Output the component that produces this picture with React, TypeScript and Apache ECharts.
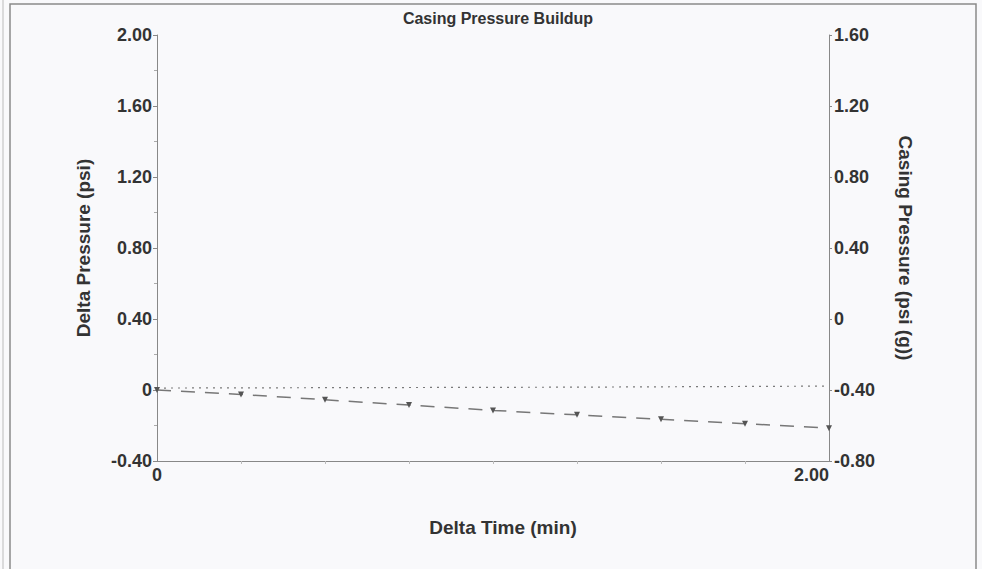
import React, { useEffect, useRef } from "react";
import * as echarts from "echarts";

const timeMin = [0, 0.25, 0.5, 0.75, 1.0, 1.25, 1.5, 1.75, 2.0];
const deltaPressure = [0, -0.025, -0.055, -0.085, -0.115, -0.14, -0.165, -0.19, -0.215];
const casingPressure = [-0.389, -0.388, -0.387, -0.386, -0.385, -0.384, -0.382, -0.38, -0.378];

const titleText = "Casing Pressure Buildup";
const xName = "Delta Time (min)";
const yLeftName = "Delta Pressure (psi)";
const yRightName = "Casing Pressure (psi (g))";

const fmt = (v: number) => (Math.abs(v) < 1e-9 ? "0" : v.toFixed(2));

export default function App() {
  const ref = useRef<HTMLDivElement>(null);
  useEffect(() => {
    if (!ref.current) return;
    const chart = echarts.init(ref.current, null, { renderer: "svg" });
    const font = "Liberation Sans, Arial, sans-serif";
    const base = { color: "#333", fontWeight: "bold" as const, fontFamily: font };
    const tickStyle = { ...base, fontSize: 18 };
    const nameStyle = { ...base, fontSize: 19 };
    const axisLine = { show: true, onZero: false, lineStyle: { color: "#888", width: 1 } };
    chart.setOption({
      animation: false,
      backgroundColor: "#f9f9fb",
      title: {
        text: titleText,
        left: 493,
        top: 5,
        textAlign: "center",
        textStyle: { ...base, fontSize: 16 },
      },
      graphic: [
        {
          type: "rect",
          shape: { x: 10, y: 4, width: 966, height: 580 },
          style: { fill: "none", stroke: "#8a8a8a", lineWidth: 1.5 },
          silent: true,
        },
        {
          type: "line",
          shape: { x1: 3, y1: 0, x2: 3, y2: 569 },
          style: { stroke: "#bbb", lineWidth: 1 },
          silent: true,
        },
      ],
      grid: { left: 157, right: 153, top: 35, bottom: 108 },
      xAxis: {
        type: "value",
        min: 0,
        max: 2,
        interval: 2,
        name: xName,
        nameLocation: "middle",
        nameGap: 57,
        nameTextStyle: { ...nameStyle, fontSize: 19, padding: [0, 0, 0, 20] },
        axisLine,
        axisTick: { show: false },
        minorTick: { show: true, splitNumber: 8, length: 3, lineStyle: { color: "#bbb" } },
        splitLine: { show: false },
        axisLabel: { ...tickStyle, margin: 5, formatter: fmt, alignMaxLabel: "right" },
      },
      yAxis: [
        {
          type: "value",
          min: -0.4,
          max: 2.0,
          interval: 0.4,
          name: yLeftName,
          nameLocation: "middle",
          nameGap: 64,
          nameTextStyle: nameStyle,
          axisLine,
          axisTick: { show: true, length: 4, lineStyle: { color: "#888" } },
          minorTick: { show: true, splitNumber: 2, length: 3, lineStyle: { color: "#aaa" } },
          splitLine: { show: false },
          axisLabel: { ...tickStyle, margin: 5, formatter: fmt },
        },
        {
          type: "value",
          min: -0.8,
          max: 1.6,
          interval: 0.4,
          position: "right",
          name: yRightName,
          nameLocation: "middle",
          nameGap: 67,
          nameRotate: -90,
          nameTextStyle: nameStyle,
          axisLine,
          axisTick: { show: true, length: 3, lineStyle: { color: "#888" } },
          splitLine: { show: false },
          axisLabel: { ...tickStyle, margin: 5, formatter: fmt },
        },
      ],
      series: [
        {
          type: "line",
          yAxisIndex: 0,
          data: timeMin.map((t, i) => [t, deltaPressure[i]]),
          lineStyle: { color: "#777", width: 1.5, type: [14, 10] },
          symbol: "triangle",
          symbolRotate: 180,
          symbolSize: 6,
          itemStyle: { color: "#555" },
        },
        {
          type: "line",
          yAxisIndex: 1,
          data: timeMin.map((t, i) => [t, casingPressure[i]]),
          lineStyle: { color: "#7a7a7a", width: 1.2, type: [2, 5] },
          symbol: "none",
        },
      ],
    });
    return () => chart.dispose();
  }, []);
  return (
    <div
      ref={ref}
      style={{ position: "fixed", left: 0, top: 0, width: 982, height: 569 }}
    />
  );
}
